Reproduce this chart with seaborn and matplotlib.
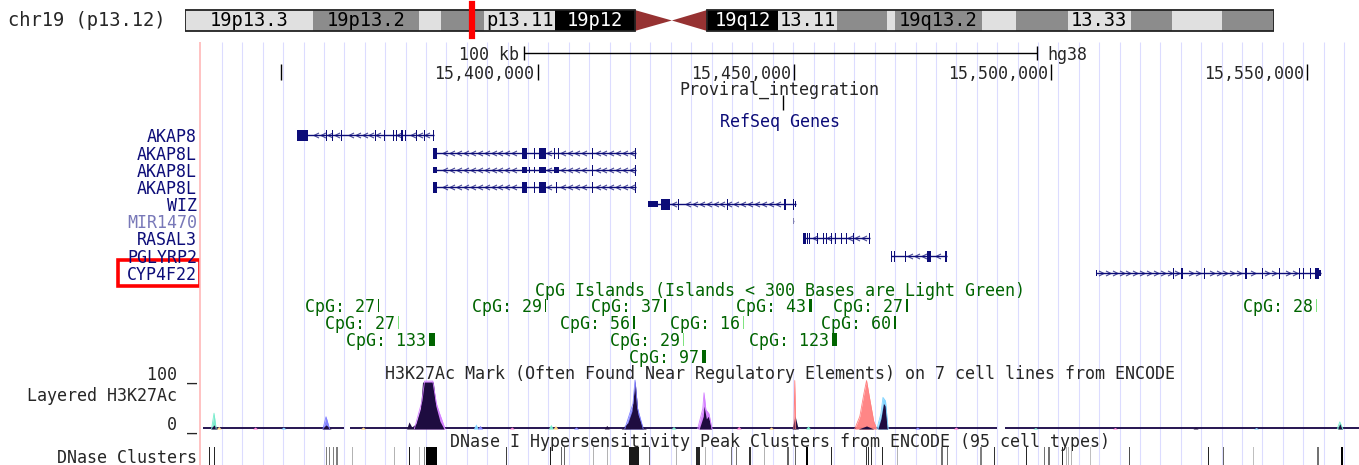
import numpy as np
import pandas as pd
import matplotlib
matplotlib.use("Agg")
import matplotlib.pyplot as plt
from matplotlib.patches import Rectangle, Polygon
import seaborn as sns

# -----------------------------
# 1. Data (positions in kb on chr19, hg38)
# -----------------------------
view_start, view_end = 15334.25, 15560.04

# chr19 ideogram bands (Mb)
band_start = [0, 6.9, 12.6, 13.8, 16.1, 19.9, 24.2, 26.2, 28.1, 31.9, 35.1, 37.8, 38.2, 42.9, 44.7, 47.5, 50.9, 53.1, 55.8]
band_end = [6.9, 12.6, 13.8, 16.1, 19.9, 24.2, 26.2, 28.1, 31.9, 35.1, 37.8, 38.2, 42.9, 44.7, 47.5, 50.9, 53.1, 55.8, 58.6]
band_stain = ["gneg", "gpos25", "gneg", "gpos25", "gneg", "gvar", "acen", "acen", "gvar", "gneg",
              "gpos25", "gneg", "gpos25", "gneg", "gpos25", "gneg", "gpos25", "gneg", "gpos25"]
band_label = ["19p13.3", "19p13.2", "", "", "p13.11", "19p12", "", "", "19q12", "13.11",
              "", "", "19q13.2", "", "", "13.33", "", "", ""]

ruler_ticks = [15350, 15400, 15450, 15500, 15550]
ruler_labels = ["", "15,400,000", "15,450,000", "15,500,000", "15,550,000"]
scale_bar = [15397.4, 15497.4]

lv3_pos = [15447.83]

# RefSeq genes: name, strand, transcript span, exons (start, end, kind c=coding u=utr)
gene_names = ["AKAP8", "AKAP8L", "AKAP8L", "AKAP8L", "WIZ", "MIR1470", "RASAL3", "PGLYRP2", "CYP4F22"]
gene_strand = ["-", "-", "-", "-", "-", "-", "-", "-", "+"]
gene_tx = [(15353.15, 15379.84), (15379.64, 15419.1), (15379.64, 15419.1), (15379.64, 15419.1),
           (15421.53, 15450.36), (15449.8, 15449.9), (15451.72, 15464.85), (15468.87, 15479.78),
           (15508.73, 15552.58)]
gene_exons = [
    [(15353.15, 15355.3, "c"), (15358.7, 15358.9, "c"), (15360.05, 15360.25, "c"), (15361.7, 15361.95, "c"),
     (15368.25, 15368.45, "c"), (15370.0, 15370.2, "c"), (15371.8, 15372.05, "c"), (15372.45, 15372.7, "c"),
     (15373.5, 15373.75, "c"), (15374.15, 15374.4, "c"), (15376.4, 15376.6, "c"), (15377.8, 15378.0, "c"),
     (15379.6, 15379.84, "c")],
    [(15379.64, 15380.42, "c"), (15396.9, 15397.95, "c"), (15399.4, 15399.6, "c"), (15400.3, 15401.7, "c"),
     (15403.3, 15403.5, "c"), (15403.9, 15404.1, "c"), (15410.6, 15410.8, "c"), (15418.9, 15419.1, "c")],
    [(15379.64, 15380.42, "u"), (15396.9, 15397.95, "u"), (15398.3, 15398.5, "u"), (15399.4, 15399.6, "u"),
     (15400.3, 15401.7, "u"), (15403.3, 15404.1, "u"), (15410.6, 15410.8, "c"), (15418.9, 15419.1, "c")],
    [(15379.64, 15380.42, "c"), (15396.9, 15397.95, "c"), (15399.4, 15399.6, "c"), (15400.3, 15401.7, "c"),
     (15403.6, 15403.8, "c"), (15410.6, 15410.8, "c"), (15418.9, 15419.1, "c")],
    [(15421.53, 15423.4, "u"), (15424.06, 15425.81, "c"), (15427.4, 15427.6, "c"), (15436.82, 15437.02, "c"),
     (15448.0, 15448.4, "c"), (15449.75, 15449.95, "c"), (15450.2, 15450.36, "u")],
    [(15449.8, 15449.9, "u")],
    [(15451.72, 15452.31, "c"), (15452.55, 15452.75, "c"), (15452.95, 15453.15, "c"), (15454.5, 15454.7, "c"),
     (15455.7, 15455.9, "c"), (15456.2, 15456.4, "c"), (15457.2, 15457.4, "c"), (15457.9, 15458.1, "c"),
     (15459.05, 15459.25, "c"), (15460.15, 15460.35, "c"), (15461.4, 15461.6, "c"), (15464.55, 15464.85, "c")],
    [(15468.87, 15469.07, "c"), (15469.4, 15469.6, "c"), (15471.5, 15471.7, "c"), (15475.84, 15476.66, "c"),
     (15479.45, 15479.78, "c")],
    [(15508.73, 15508.93, "u"), (15523.85, 15524.05, "c"), (15525.45, 15525.7, "c"), (15529.8, 15530.0, "c"),
     (15537.8, 15538.2, "c"), (15541.1, 15541.3, "c"), (15544.5, 15544.7, "c"), (15548.3, 15548.5, "c"),
     (15549.15, 15549.35, "c"), (15550.4, 15550.6, "c"), (15551.39, 15552.3, "c"), (15552.3, 15552.58, "u")],
]

# CpG islands
cpg_start = [15368.85, 15401.4, 15424.6, 15452.8, 15471.85, 15551.6,
             15372.9, 15418.55, 15440.05, 15469.4,
             15378.78, 15428.25, 15457.37,
             15432.05]
cpg_end = [15369.17, 15401.72, 15425.05, 15453.4, 15472.17, 15551.8,
           15373.1, 15419.05, 15440.25, 15469.9,
           15380.03, 15428.45, 15458.35,
           15432.83]
cpg_count = [27, 29, 37, 43, 27, 28, 27, 56, 16, 60, 133, 29, 123, 97]
cpg_row = [0, 0, 0, 0, 0, 0, 1, 1, 1, 1, 2, 2, 2, 3]

# Layered H3K27Ac (7 ENCODE cell lines), peak outlines
h3k_rows = [
    ("A", "HSMM", 15336.5, 0), ("A", "HSMM", 15336.98, 31), ("A", "HSMM", 15337.4, 0),
    ("A", "overlap", 15336.3, 0), ("A", "overlap", 15336.98, 8), ("A", "overlap", 15337.6, 0),
    ("B", "K562", 15358.2, 0), ("B", "K562", 15358.8, 24), ("B", "K562", 15359.5, 0),
    ("B", "overlap", 15358.0, 0), ("B", "overlap", 15358.8, 8), ("B", "overlap", 15359.8, 0),
    ("C", "NHEK", 15376.0, 0), ("C", "NHEK", 15377.5, 55), ("C", "NHEK", 15378.0, 94), ("C", "NHEK", 15379.6, 94),
    ("C", "NHEK", 15380.3, 50), ("C", "NHEK", 15380.8, 34), ("C", "NHEK", 15381.3, 20), ("C", "NHEK", 15382.0, 0),
    ("C", "overlap", 15374.5, 0), ("C", "overlap", 15374.97, 14), ("C", "overlap", 15375.5, 4),
    ("C", "overlap", 15376.3, 10), ("C", "overlap", 15377.2, 40), ("C", "overlap", 15377.6, 92),
    ("C", "overlap", 15379.7, 92), ("C", "overlap", 15380.2, 45), ("C", "overlap", 15381.0, 15),
    ("C", "overlap", 15381.8, 0),
    ("D", "K562", 15417.0, 0), ("D", "K562", 15418.6, 50), ("D", "K562", 15419.0, 96), ("D", "K562", 15419.5, 40),
    ("D", "K562", 15420.6, 0),
    ("D", "overlap", 15416.3, 0), ("D", "overlap", 15417.6, 12), ("D", "overlap", 15418.4, 35),
    ("D", "overlap", 15419.0, 95), ("D", "overlap", 15419.6, 28), ("D", "overlap", 15420.4, 6),
    ("D", "overlap", 15421.2, 0),
    ("E", "NHEK", 15431.2, 0), ("E", "NHEK", 15432.2, 40), ("E", "NHEK", 15432.44, 71), ("E", "NHEK", 15432.8, 38),
    ("E", "NHEK", 15433.4, 30), ("E", "NHEK", 15434.0, 0),
    ("E", "overlap", 15431.5, 0), ("E", "overlap", 15432.3, 25), ("E", "overlap", 15432.44, 45),
    ("E", "overlap", 15432.9, 20), ("E", "overlap", 15433.3, 25), ("E", "overlap", 15433.9, 0),
    ("F", "GM12878", 15449.95, 0), ("F", "GM12878", 15450.12, 95), ("F", "GM12878", 15450.3, 0),
    ("F", "overlap", 15449.6, 0), ("F", "overlap", 15450.17, 26), ("F", "overlap", 15450.8, 0),
    ("G", "GM12878", 15461.8, 0), ("G", "GM12878", 15462.8, 25), ("G", "GM12878", 15463.6, 70),
    ("G", "GM12878", 15464.1, 95), ("G", "GM12878", 15464.7, 60), ("G", "GM12878", 15465.5, 15),
    ("G", "GM12878", 15466.1, 0),
    ("G", "overlap", 15462.5, 0), ("G", "overlap", 15464.1, 6), ("G", "overlap", 15465.5, 0),
    ("H", "HUVEC", 15466.1, 0), ("H", "HUVEC", 15466.9, 30), ("H", "HUVEC", 15467.3, 62),
    ("H", "HUVEC", 15467.8, 55), ("H", "HUVEC", 15468.3, 0),
    ("H", "overlap", 15466.3, 0), ("H", "overlap", 15466.9, 20), ("H", "overlap", 15467.4, 50),
    ("H", "overlap", 15467.8, 45), ("H", "overlap", 15468.2, 0),
    ("I", "HSMM", 15555.8, 0), ("I", "HSMM", 15556.3, 14), ("I", "HSMM", 15556.9, 0),
    ("I", "overlap", 15555.9, 0), ("I", "overlap", 15556.3, 11), ("I", "overlap", 15556.8, 0),
]
# small bumps: position, height, cell line
h3k_bumps = [(15337.9, 5, "H1-hESC"), (15345.0, 4, "NHLF"), (15350.5, 4, "HUVEC"), (15366.0, 4, "H1-hESC"),
             (15388.0, 10, "HUVEC"), (15388.8, 7, "K562"), (15395.0, 4, "NHLF"), (15402.6, 9, "HSMM"),
             (15403.5, 7, "H1-hESC"), (15407.5, 4, "K562"), (15413.5, 7, "overlap"), (15426.5, 5, "HSMM"),
             (15439.2, 5, "NHLF"), (15445.5, 4, "H1-hESC"), (15452.7, 6, "HSMM"), (15474.0, 4, "K562"),
             (15481.5, 4, "NHLF"), (15497.0, 3, "HSMM"), (15512.5, 3, "NHLF"), (15528.2, 4, "overlap"),
             (15540.0, 3, "HUVEC")]
h3k_cover = [(15334.9, 15362.3), (15363.5, 15489.5), (15491.1, 15560.04)]

cell_colors = {"GM12878": "#ff8080", "H1-hESC": "#ffd480", "HSMM": "#78ebcc", "HUVEC": "#80d4ff",
               "K562": "#8080ff", "NHEK": "#d480ff", "NHLF": "#ff80d4", "overlap": "#1e0c40"}

# DNase clusters: start, end, darkness (0-1)
dn_start = [15335.95, 15336.88, 15358.7, 15359.4, 15360.25, 15360.84, 15363.9, 15372.0, 15374.9, 15377.0,
            15377.9, 15378.3, 15393.95, 15402.35, 15404.5, 15405.25, 15410.9, 15413.45, 15417.9, 15421.8,
            15426.9, 15430.85, 15432.55, 15437.75, 15438.75, 15441.3, 15444.2, 15448.7, 15450.25, 15452.4,
            15457.1, 15463.9, 15464.45, 15465.05, 15467.2, 15470.05, 15478.7, 15479.8, 15486.3, 15488.85,
            15495.25, 15498.6, 15499.55, 15502.1, 15502.9, 15503.4, 15504.0, 15507.55, 15515.15, 15530.7,
            15533.45, 15539.3, 15551.9, 15556.6]
dn_end = [15336.15, 15337.08, 15358.9, 15359.6, 15360.45, 15361.04, 15364.1, 15372.2, 15375.1, 15377.2,
          15378.1, 15380.4, 15394.15, 15402.55, 15404.7, 15405.45, 15411.1, 15413.65, 15419.8, 15422.0,
          15427.1, 15431.7, 15432.75, 15437.95, 15438.95, 15441.5, 15444.4, 15448.9, 15450.45, 15452.75,
          15457.3, 15464.1, 15464.65, 15465.25, 15467.4, 15470.25, 15478.9, 15480.0, 15486.5, 15489.05,
          15495.45, 15498.8, 15499.75, 15502.3, 15503.1, 15503.6, 15504.2, 15507.75, 15515.35, 15530.9,
          15533.65, 15539.5, 15552.3, 15556.95]
dn_shade = [0.85, 0.85, 0.5, 0.5, 0.5, 0.5, 0.3, 0.3, 0.9, 0.3,
            0.5, 1.0, 0.75, 0.9, 0.6, 0.6, 0.3, 0.3, 0.9, 0.6,
            0.3, 0.85, 0.3, 0.55, 0.55, 0.8, 0.3, 0.6, 0.6, 1.0,
            0.85, 0.8, 0.8, 0.8, 0.85, 0.3, 0.55, 0.55, 0.5, 0.8,
            0.85, 0.55, 0.55, 0.85, 0.3, 0.3, 0.3, 0.25, 0.7, 0.85,
            0.6, 0.25, 0.55, 1.0]

# -----------------------------
# 2. Figure set-up
# -----------------------------
sns.set_theme(style="white")
plt.rcParams["font.family"] = ["DejaVu Sans Mono"]
plt.rcParams["font.size"] = 12

W, H = 1359, 465
fig = plt.figure(figsize=(W / 100, H / 100), dpi=100)
fig.patch.set_facecolor("white")


def px_axes(x0, y0, x1, y1):
    a = fig.add_axes([x0 / W, 1 - y1 / H, (x1 - x0) / W, (y1 - y0) / H])
    a.set_axis_off()
    return a


NAVY = "#0c0c78"
GREEN = "#006400"
LIGHT_GREEN = "#80e480"
mid = (view_start + view_end) / 2

# left label column
lab = px_axes(0, 0, 200, 465)
lab.set_xlim(0, 200)
lab.set_ylim(465, 0)

# main track area (y in screen rows)
ax = px_axes(200, 0, 1359, 465)
ax.set_xlim(view_start, view_end)
ax.set_ylim(465, 0)

# -----------------------------
# 3. Ideogram
# -----------------------------
ideo = px_axes(185, 0, 1274, 42)
ideo.set_xlim(0, band_end[-1])
ideo.set_ylim(42, 0)
stain_color = {"gneg": "#e0e0e0", "gpos25": "#8c8c8c", "gvar": "#000000", "acen": "#963232"}
for s, e, st, name in zip(band_start, band_end, band_stain, band_label):
    if st == "acen":
        tip = 26.2
        base = s if e == tip else e
        ideo.add_patch(Polygon([(base, 10), (tip, 20.5), (base, 31)], closed=True,
                               facecolor=stain_color[st], edgecolor="none"))
    else:
        ideo.add_patch(Rectangle((s, 10), e - s, 21, facecolor=stain_color[st], edgecolor="none"))
    if name:
        ideo.text((s + e) / 2, 21, name, ha="center", va="center", fontsize=13.5,
                  color="white" if st == "gvar" else "black")
ideo.add_patch(Rectangle((0, 10), 24.2, 21, fill=False, edgecolor="#222222", lw=1.3))
ideo.add_patch(Rectangle((28.1, 10), band_end[-1] - 28.1, 21, fill=False, edgecolor="#222222", lw=1.3))
ideo.add_patch(Rectangle((view_start / 1000, 2), (view_end - view_start) / 1000, 36,
                         facecolor="#ff0000", edgecolor="#ff0000", lw=1.6, clip_on=False))
lab.text(8, 21, "chr19 (p13.12)", ha="left", va="center", fontsize=13.5)

# -----------------------------
# 4. Guidelines, ruler, scale
# -----------------------------
ax.vlines(np.arange(view_start + 4.29, view_end, 3.974), 42, 465, color="#dcdcff", lw=0.8, zorder=0)
ax.vlines(view_start, 42, 465, color="#ffb8b8", lw=1.2, zorder=0, clip_on=False)

ax.hlines(53, scale_bar[0], scale_bar[1], color="black", lw=1)
ax.vlines(scale_bar, 46, 60, color="black", lw=1)
ax.annotate("100 kb", xy=(scale_bar[0], 53), xytext=(-5, 0), textcoords="offset pixels",
            ha="right", va="center_baseline")
ax.annotate("hg38", xy=(scale_bar[1], 53), xytext=(10, 0), textcoords="offset pixels",
            ha="left", va="center_baseline")

ax.vlines(ruler_ticks, 64, 80, color="black", lw=1)
for t, lbl in zip(ruler_ticks, ruler_labels):
    ax.annotate(lbl, xy=(t, 72), xytext=(-3, 0), textcoords="offset pixels",
                ha="right", va="center_baseline")

# LV-3 track
ax.text(mid, 88, "Proviral_integration", ha="center", va="center_baseline")
ax.vlines(lv3_pos, 95, 110, color="black", lw=1)

# -----------------------------
# 5. RefSeq genes
# -----------------------------
ax.text(mid, 120, "RefSeq Genes", ha="center", va="center_baseline", color=NAVY)
gene_rows = [135, 153, 170, 187, 204, 221, 238, 256, 273]
chev_left = [(1, 1), (-1, 0), (1, -1)]
chev_right = [(-1, 1), (1, 0), (-1, -1)]

for name, strand, tx, exons, y in zip(gene_names, gene_strand, gene_tx, gene_exons, gene_rows):
    col = "#8080b4" if name.startswith("MIR") else NAVY
    ax.hlines(y, tx[0], tx[1], color=col, lw=1, zorder=3)
    pts = np.arange(tx[0] + 1.0, tx[1] - 0.6, 1.35)
    pts = [p for p in pts if not any(s - 0.35 <= p <= e + 0.35 for s, e, _ in exons)]
    ax.plot(pts, [y] * len(pts), ls="none", marker=chev_left if strand == "-" else chev_right,
            ms=3.6, mfc="none", mec=col, mew=0.8, alpha=0.75, zorder=3)
    for s, e, kind in exons:
        h = 11 if kind == "c" else 6
        ax.add_patch(Rectangle((s, y - h / 2), max(e - s, 0.2), h, facecolor=col, edgecolor="none", zorder=4))
    lab.text(197, y, name, ha="right", va="center_baseline",
             color="#7878b8" if name.startswith("MIR") else NAVY)

lab.add_patch(Rectangle((118, 260), 82, 26, fill=False, edgecolor="#ff0000", lw=2.6))

# -----------------------------
# 6. CpG islands
# -----------------------------
ax.text(mid, 289, "CpG Islands (Islands < 300 Bases are Light Green)", ha="center",
        va="center_baseline", color=GREEN)
cpg_rows = [305, 322, 339, 356]
for s, e, n, r in zip(cpg_start, cpg_end, cpg_count, cpg_row):
    y = cpg_rows[r]
    light = (e - s) * 1000 < 300
    ax.bar(s, 13, width=e - s, bottom=y - 6.5, align="edge",
           color=LIGHT_GREEN if light else GREEN, lw=0, zorder=3)
    ax.annotate(f"CpG: {n}", xy=(s, y), xytext=(-3, 0), textcoords="offset pixels",
                ha="right", va="center_baseline", color=GREEN)

# -----------------------------
# 7. Layered H3K27Ac
# -----------------------------
ax.text(mid, 372, "H3K27Ac Mark (Often Found Near Regulatory Elements) on 7 cell lines from ENCODE",
        ha="center", va="center_baseline")
lab.text(197, 373, "100 _", ha="right", va="center_baseline")
lab.text(177, 394, "Layered H3K27Ac", ha="right", va="center_baseline")
lab.text(197, 423, "0 _", ha="right", va="center_baseline")

hx = px_axes(200, 378, 1359, 429)
h3k = pd.DataFrame(h3k_rows, columns=["peak", "cell", "pos", "value"])

for s, e in h3k_cover:
    hx.fill_between([s, e], 0, 3, color="#2a1a55", lw=0)
for p, v, c in h3k_bumps:
    hx.fill_between([p - 0.5, p, p + 0.5], 0, [0, v, 0], color=cell_colors[c], lw=0)

colored = h3k[h3k["cell"] != "overlap"]
for (_, cell), g in colored.groupby(["peak", "cell"], sort=False):
    hx.fill_between(g["pos"], 0, g["value"], color=cell_colors[cell], lw=0, alpha=0.95)
sns.lineplot(data=colored, x="pos", y="value", hue="cell", units="peak", estimator=None,
             palette=cell_colors, legend=False, lw=0.6, sort=False, ax=hx)
for _, g in h3k[h3k["cell"] == "overlap"].groupby("peak", sort=False):
    hx.fill_between(g["pos"], 0, g["value"], color=cell_colors["overlap"], lw=0)
hx.set_xlim(view_start, view_end)
hx.set_ylim(0, 100)
hx.set_axis_off()

# -----------------------------
# 8. DNase clusters
# -----------------------------
ax.text(mid, 440, "DNase I Hypersensitivity Peak Clusters from ENCODE (95 cell types)",
        ha="center", va="center_baseline")
lab.text(197, 456, "DNase Clusters", ha="right", va="center_baseline")

dx = px_axes(200, 447, 1359, 465)
widths = np.maximum(np.array(dn_end) - np.array(dn_start), 0.2)
dx.bar(dn_start, 1, width=widths, align="edge", color=[str(round(1 - s, 2)) for s in dn_shade], lw=0)
dx.set_xlim(view_start, view_end)
dx.set_ylim(0, 1)
dx.set_axis_off()

plt.savefig("out.png", dpi=100, facecolor="white")
plt.close()
